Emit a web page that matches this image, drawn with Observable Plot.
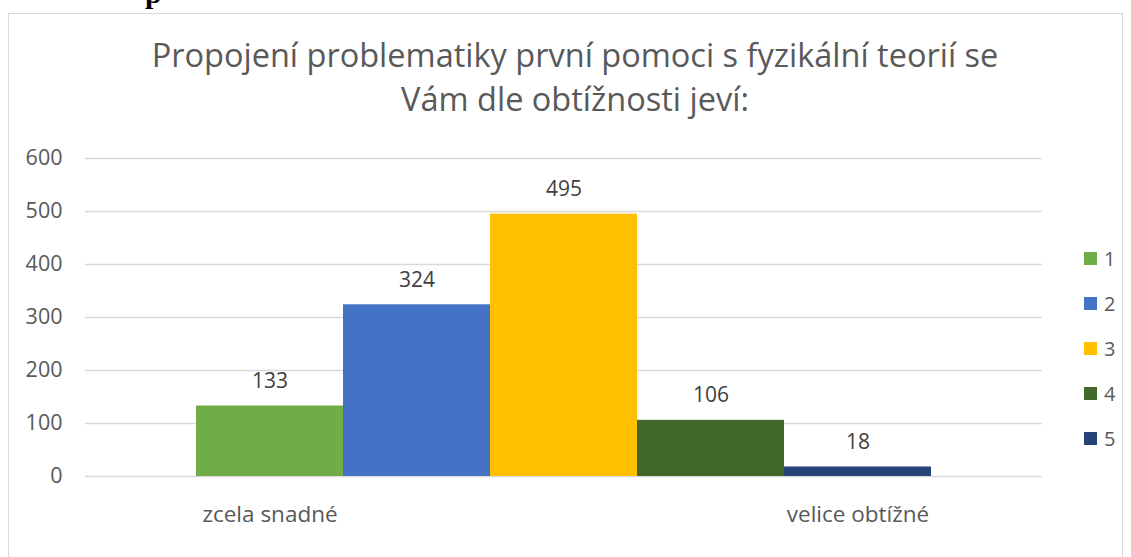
<!DOCTYPE html>
<html><head><meta charset="utf-8">
<script src="https://cdn.jsdelivr.net/npm/d3@7"></script>
<script src="https://cdn.jsdelivr.net/npm/@observablehq/plot@0.6"></script>
<style>
body{margin:0;background:#fff;overflow:hidden;}
#wrap{position:relative;width:1131px;height:557px;font-family:"Open Sans",Lato,sans-serif;}
#frame{position:absolute;left:8px;top:13px;width:1115px;height:600px;border:1.5px solid #d9d9d9;box-sizing:border-box;}
#frag{position:absolute;left:145px;top:-22px;font:bold 30px/30px "Liberation Serif",serif;color:#000;}
#title{position:absolute;left:0;width:1150px;top:33px;text-align:center;font-size:32.5px;line-height:44px;color:#595959;}
#chart{position:absolute;left:0;top:0;}
#legend{position:absolute;left:1084px;top:246px;font-size:20px;color:#595959;}
.li{height:45px;display:flex;align-items:flex-start;}
.sw{width:13px;height:13px;margin-top:6px;margin-right:7px;}
.li span{line-height:25px;}
</style></head>
<body><div id="wrap">
<div id="frame"></div>
<div id="frag">p</div>
<div id="chart"></div>
<div id="title">Propojení problematiky první pomoci s fyzikální teorií se<br>Vám dle obtížnosti jeví:</div>
<div id="legend"></div>
</div>
<script>
const series = ["1","2","3","4","5"];
const values = [133,324,495,106,18];
const colors = ["#70AD47","#4472C4","#FFC000","#43682B","#264478"];
const categoryLabels = ["zcela snadné","","","","velice obtížné"];
const yTicks = [0,100,200,300,400,500,600];

const data = series.map((s,i)=>({series:s,value:values[i]}));

const plot = Plot.plot({
  width:1131, height:557,
  marginLeft:85, marginRight:89, marginTop:158, marginBottom:81,
  style:{fontFamily:"'Open Sans', Lato, sans-serif", fontSize:"21px", color:"#595959", background:"transparent"},
  x:{domain:series, paddingInner:0, paddingOuter:0.75, axis:null, label:null},
  y:{domain:[0,600], axis:null, label:null},
  color:{domain:series, range:colors},
  marks:[
    Plot.ruleY(yTicks,{stroke:"#d9d9d9", strokeWidth:1.5}),
    Plot.axisY(yTicks,{tickSize:0, tickPadding:23, fontSize:21.5, fill:"#595959", label:null}),
    Plot.axisX(series,{tickSize:0, tickPadding:30, fontSize:22.5, fill:"#595959", label:null, tickFormat:d=>categoryLabels[series.indexOf(d)]}),
    Plot.barY(data,{x:"series", y:"value", fill:"series", inset:0}),
    Plot.text(data,{x:"series", y:"value", text:d=>String(d.value), dy:-25, fontSize:21, fill:"#404040"})
  ]
});
document.getElementById("chart").appendChild(plot);

const lg = document.getElementById("legend");
series.forEach((s,i)=>{
  const row=document.createElement("div");row.className="li";
  const sw=document.createElement("div");sw.className="sw";sw.style.background=colors[i];
  const t=document.createElement("span");t.textContent=s;
  row.appendChild(sw);row.appendChild(t);lg.appendChild(row);
});
</script>
</body></html>
